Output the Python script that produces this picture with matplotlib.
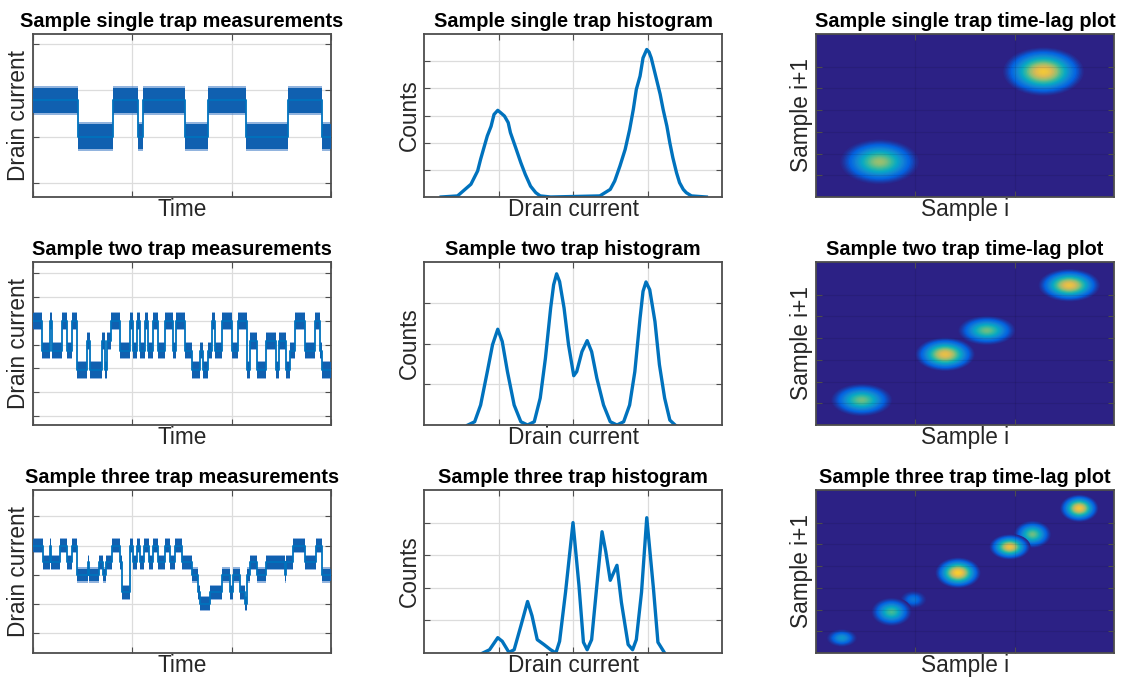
import numpy as np
import matplotlib
matplotlib.use("Agg")
import matplotlib.pyplot as plt
from matplotlib.colors import LinearSegmentedColormap
from matplotlib.patches import Ellipse

# ---- time series: switch times (edges) and current level per segment ----
ts1_edges = [0, 45.3, 80.4, 106, 111, 153, 176.6, 214.5, 257, 291.3, 300]
ts1_levels = [1.79, 1.0, 1.79, 1.0, 1.79, 1.0, 1.79, 1.0, 1.79, 1.0]

A2, B2, C2, D2 = 3.99, 3.16, 2.75, 1.93
ts2_edges = [0, 9, 17, 19, 29, 34, 39, 44, 54, 57, 69, 72, 74, 79, 88, 98, 101, 105,
             108, 113, 116, 121, 126, 133, 141, 144, 153, 160, 168, 171, 176, 180,
             183, 190, 200, 206, 215, 218, 226, 235, 245, 248, 255, 259, 264, 274,
             284, 289, 291, 300]
ts2_levels = [A2, C2, A2, C2, A2, C2, A2, D2, B2, D2, B2, D2, B2, A2, C2, A2, C2,
              A2, C2, A2, C2, A2, C2, A2, C2, A2, C2, D2, C2, D2, C2, A2, C2, A2,
              C2, A2, D2, B2, D2, B2, D2, B2, D2, C2, A2, C2, A2, C2, D2]

T3, L5, L4, L2, L1 = 3.0, 2.43, 1.99, 1.40, 1.01
ts3_edges = [0, 10, 17, 18, 27, 34, 39, 44, 55, 56, 66, 70, 73, 80, 88, 90, 98, 101,
             105, 108, 112, 117, 121, 126, 133, 138, 143, 150, 160, 166, 168, 178,
             190, 198, 201, 208, 213, 215, 218, 225, 235, 254, 255, 262, 274, 285,
             291, 300]
ts3_levels = [T3, L5, T3, L5, T3, L5, T3, L4, L5, L4, L5, L4, L5, T3, L5, L2, T3,
              L5, T3, L5, T3, L5, T3, L5, T3, L5, T3, L5, L4, L2, L1, L2, L4, L2,
              L4, L2, L1, L4, L5, L4, L5, L4, L5, T3, L5, T3, L4]

ts_halfwidth = [0.27, 0.33, 0.22]
ts_ylims = [(-0.29, 3.21), (-0.38, 6.47), (-0.68, 4.9)]
ts_yticks = [[0, 1, 2, 3], [0, 1, 2, 3, 4, 5, 6], [0, 1, 2, 3, 4]]

# ---- histograms ----
h1_x = [0.23, 0.45, 0.63, 0.72, 0.76, 0.81, 0.85, 0.90, 0.94, 0.99, 1.03, 1.08,
        1.13, 1.16, 1.23, 1.30, 1.36, 1.43, 1.50, 1.56, 1.70, 2.36, 2.50, 2.56,
        2.63, 2.70, 2.76, 2.81, 2.85, 2.90, 2.94, 2.99, 3.02, 3.05, 3.12, 3.17,
        3.21, 3.26, 3.30, 3.34, 3.39, 3.43, 3.48, 3.52, 3.59, 3.79]
h1_y = [0.0, 0.04, 0.47, 0.96, 1.39, 1.87, 2.25, 2.60, 3.04, 3.19, 3.10, 2.98,
        2.74, 2.37, 1.82, 1.26, 0.83, 0.40, 0.16, 0.04, 0.0, 0.04, 0.28, 0.59,
        1.14, 1.75, 2.48, 3.23, 3.96, 4.45, 5.12, 5.43, 5.34, 5.12, 4.34, 3.78,
        3.22, 2.61, 1.99, 1.45, 0.89, 0.53, 0.28, 0.16, 0.04, 0.0]

h2_x = [0.59, 0.68, 0.76, 0.85, 0.92, 0.99, 1.05, 1.12, 1.21, 1.30, 1.39, 1.48,
        1.56, 1.63, 1.70, 1.74, 1.78, 1.82, 1.88, 1.94, 2.01, 2.05, 2.12, 2.19,
        2.25, 2.32, 2.41, 2.50, 2.59, 2.68, 2.76, 2.83, 2.90, 2.94, 2.98, 3.03,
        3.10, 3.16, 3.23, 3.30, 3.37]
h2_y = [0.0, 0.08, 0.49, 1.31, 1.97, 2.35, 2.05, 1.31, 0.49, 0.08, 0.0, 0.08,
        0.66, 1.64, 2.87, 3.44, 3.71, 3.52, 2.87, 1.97, 1.21, 1.31, 1.80, 2.07,
        1.80, 1.15, 0.49, 0.08, 0.0, 0.08, 0.49, 1.31, 2.62, 3.28, 3.51, 3.32,
        2.54, 1.48, 0.66, 0.12, 0.0]

h3_x = [0.79, 0.88, 0.99, 1.05, 1.14, 1.21, 1.30, 1.39, 1.45, 1.52, 1.61, 1.70,
        1.77, 1.82, 1.90, 2.00, 2.08, 2.14, 2.19, 2.25, 2.32, 2.39, 2.44, 2.50,
        2.59, 2.65, 2.74, 2.80, 2.85, 2.92, 2.99, 3.08, 3.14, 3.23]
h3_y = [0.0, 0.10, 0.47, 0.36, 0.02, 0.10, 0.83, 1.58, 1.14, 0.41, 0.26, 0.10,
        0.0, 0.36, 1.87, 4.0, 2.07, 0.33, 0.10, 0.41, 2.07, 3.72, 3.11, 2.23,
        2.69, 1.55, 0.26, 0.10, 0.41, 1.87, 4.15, 1.97, 0.33, 0.0]

h_ylims = [6, 4, 5]
h_yticks = [[1, 2, 3, 4, 5], [1, 2, 3], [1, 2, 3, 4]]

# ---- time-lag clusters: centre x, centre y, width, height, peak intensity ----
lag1_x = [2.29, 0.64]
lag1_y = [5.77, 1.62]
lag1_w = [0.84, 0.82]
lag1_h = [2.3, 2.15]
lag1_peak = [0.84, 0.64]

lag2_x = [2.55, 1.72, 1.30, 0.46]
lag2_y = [6.43, 4.35, 3.25, 1.15]
lag2_w = [0.64, 0.60, 0.62, 0.64]
lag2_h = [1.55, 1.40, 1.60, 1.55]
lag2_peak = [0.82, 0.58, 0.80, 0.58]

lag3_x = [2.65, 2.18, 1.95, 1.43, 0.98, 0.76, 0.26]
lag3_y = [6.66, 5.46, 4.88, 3.69, 2.46, 1.89, 0.69]
lag3_w = [0.40, 0.39, 0.42, 0.47, 0.28, 0.42, 0.32]
lag3_h = [1.30, 1.30, 1.20, 1.45, 0.85, 1.35, 0.85]
lag3_peak = [0.84, 0.58, 0.82, 0.88, 0.2, 0.52, 0.32]

titles = [["Sample single trap measurements", "Sample single trap histogram",
           "Sample single trap time-lag plot"],
          ["Sample two trap measurements", "Sample two trap histogram",
           "Sample two trap time-lag plot"],
          ["Sample three trap measurements", "Sample three trap histogram",
           "Sample three trap time-lag plot"]]

parula = LinearSegmentedColormap.from_list(
    "parula", ["#2c2185", "#0363e1", "#1485d4", "#06a7c6", "#38b99e",
               "#92bf73", "#d9ba56", "#fcce2e", "#f9fb0e"])

plt.rcParams['font.family'] = ['Liberation Sans', 'DejaVu Sans']
LINE = "#0072bd"
BAND = "#1060b0"
EDGE = "#4d4d4d"
TXT = "#262626"

fig = plt.figure(figsize=(11.26, 6.84), dpi=100)
W, H = 1126, 684
col_left = [33, 424, 816]
row_top = [34, 262, 490]
aw, ah = 298, 163


def style_axes(ax, title, xlabel, ylabel):
    ax.set_title(title, fontsize=14.3, fontweight='bold', pad=5, color='black')
    ax.set_xlabel(xlabel, fontsize=16.3, color=TXT, labelpad=1)
    ax.set_ylabel(ylabel, fontsize=16.3, color=TXT, labelpad=2)
    ax.tick_params(direction='in', length=4, width=0.8, color=EDGE,
                   top=True, right=True, labelbottom=False, labelleft=False)
    for s in ax.spines.values():
        s.set_color(EDGE)
        s.set_linewidth(1.3)


ts_data = [(ts1_edges, ts1_levels), (ts2_edges, ts2_levels), (ts3_edges, ts3_levels)]
h_data = [(h1_x, h1_y), (h2_x, h2_y), (h3_x, h3_y)]
lag_data = [(lag1_x, lag1_y, lag1_w, lag1_h, lag1_peak),
            (lag2_x, lag2_y, lag2_w, lag2_h, lag2_peak),
            (lag3_x, lag3_y, lag3_w, lag3_h, lag3_peak)]

for r in range(3):
    rect = lambda c: [col_left[c] / W, 1 - (row_top[r] + ah) / H, aw / W, ah / H]

    # measurements
    ax = fig.add_axes(rect(0))
    edges, levels = ts_data[r]
    lv = np.array(levels + [levels[-1]])
    hw = ts_halfwidth[r]
    ax.fill_between(edges, lv - hw - 0.04, lv + hw + 0.04, step='post',
                    color="#4a82c8", alpha=0.6, lw=0, zorder=2)
    ax.fill_between(edges, lv - hw, lv + hw, step='post', color=BAND, lw=0, zorder=3)
    ax.step(edges, lv, where='post', color=LINE, lw=1.3, zorder=3)
    ax.set_xlim(0, 300)
    ax.set_ylim(*ts_ylims[r])
    ax.set_xticks([0, 100, 200, 300])
    ax.set_yticks(ts_yticks[r])
    ax.grid(True, color="#dcdcdc", lw=0.9)
    ax.set_axisbelow(True)
    style_axes(ax, titles[r][0], "Time", "Drain current")

    # histogram
    ax = fig.add_axes(rect(1))
    hx, hy = h_data[r]
    ax.plot(hx, hy, color=LINE, lw=2.4, solid_joinstyle='round')
    ax.set_xlim(0, 4)
    ax.set_ylim(0, h_ylims[r])
    ax.set_xticks([1, 2, 3])
    ax.set_yticks(h_yticks[r])
    ax.grid(True, color="#dcdcdc", lw=0.9)
    ax.set_axisbelow(True)
    style_axes(ax, titles[r][1], "Drain current", "Counts")

    # time-lag
    ax = fig.add_axes(rect(2))
    ax.set_facecolor(parula(0.0))
    for cx, cy, w, h, pk in zip(*lag_data[r]):
        for f in np.linspace(1.0, 0.04, 28):
            v = pk * (np.exp(-2.3 * f ** 2) - np.exp(-2.3)) / (1 - np.exp(-2.3))
            ax.add_patch(Ellipse((cx, cy), w * f, h * f, facecolor=parula(v),
                                 edgecolor='none', zorder=2))
    ax.set_xlim(0, 3)
    ax.set_ylim(0, 7.5)
    ax.set_xticks([1, 2])
    ax.set_yticks([1, 2, 3, 4, 5, 6])
    ax.grid(True, color="black", alpha=0.09, lw=0.8, zorder=5)
    ax.set_axisbelow(False)
    style_axes(ax, titles[r][2], "Sample i", "Sample i+1")

fig.savefig("out.png", dpi=100)
